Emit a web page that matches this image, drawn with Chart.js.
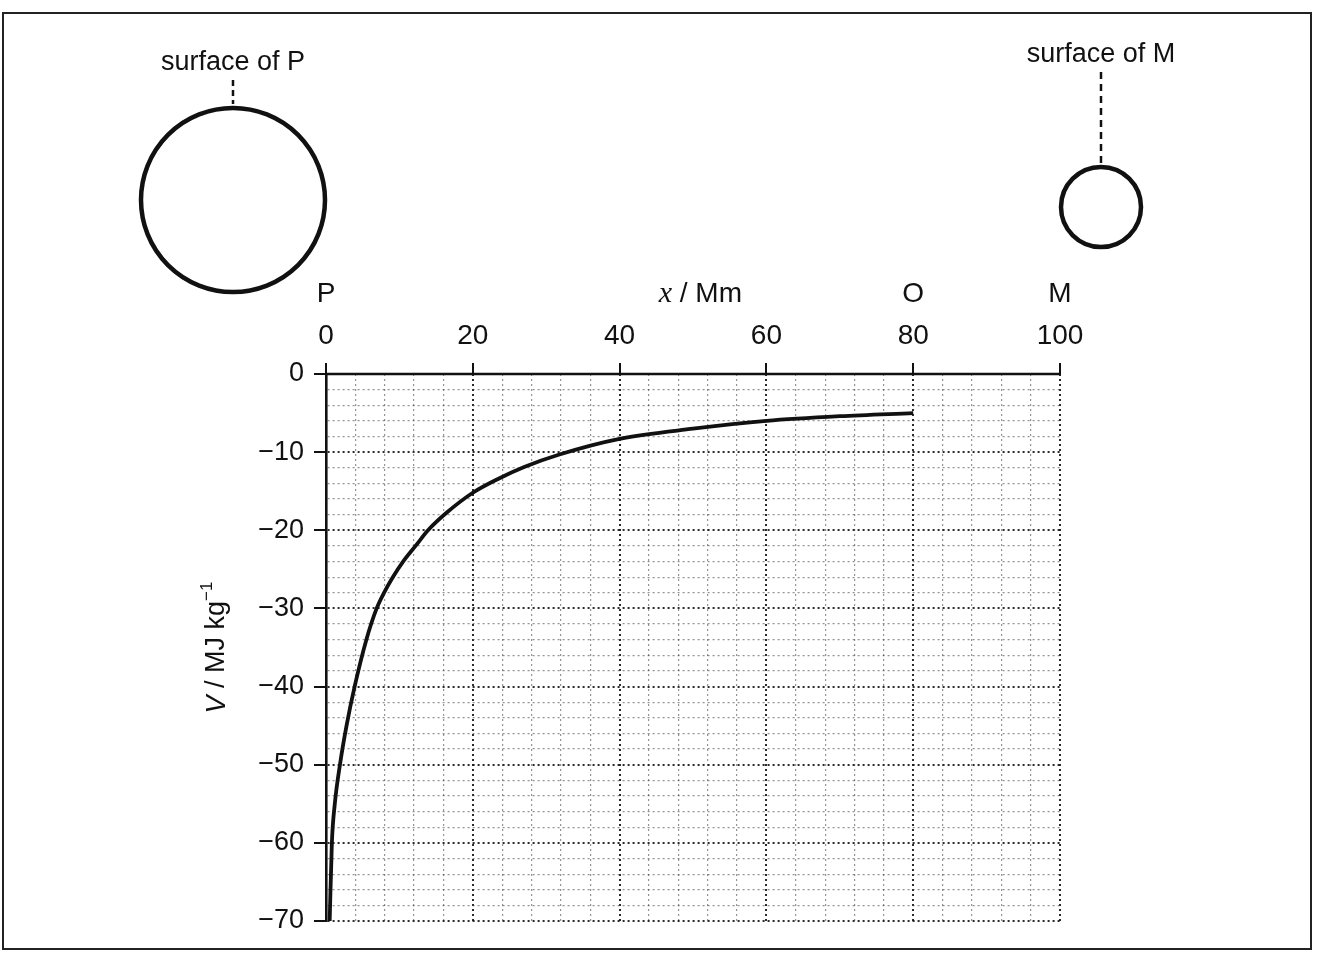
<!DOCTYPE html>
<html>
<head>
<meta charset="utf-8">
<title>Gravitational potential between P and M</title>
<script src="https://cdn.jsdelivr.net/npm/chart.js@4.4.1/dist/chart.umd.min.js"></script>
<style>
  html, body { margin: 0; padding: 0; background: #fff; }
  #wrap { position: relative; width: 1329px; height: 966px; }
  #frame { position: absolute; left: 2px; top: 12px; width: 1306px; height: 934px; border: 2px solid #222; }
</style>
</head>
<body>
<div id="wrap">
  <div id="frame"></div>
  <canvas id="chart"></canvas>
</div>
<script>
// === Data ===
const curveX = [0.5, 0.8, 1.2, 1.9, 2.8, 3.9, 5.5, 6.9, 7.9, 9.1, 10.5, 12.2, 13.9, 16.5, 20, 23.5, 27, 31.8, 40, 50, 60, 70, 80];
const curveV = [-70, -60, -55, -50, -45, -40, -34, -30, -28, -26, -24, -22, -20, -17.7, -15.2, -13.4, -11.9, -10.3, -8.3, -7.0, -6.0, -5.4, -5.0];

// grid lines (graph paper) and labelled ticks
const xGrid = [0, 4, 8, 12, 16, 20, 24, 28, 32, 36, 40, 44, 48, 52, 56, 60, 64, 68, 72, 76, 80, 84, 88, 92, 96, 100];
const xLabels = [0, 20, 40, 60, 80, 100];
const yGrid = [0, -2, -4, -6, -8, -10, -12, -14, -16, -18, -20, -22, -24, -26, -28, -30, -32, -34, -36, -38, -40,
               -42, -44, -46, -48, -50, -52, -54, -56, -58, -60, -62, -64, -66, -68, -70];
const yLabels = [0, -10, -20, -30, -40, -50, -60, -70];

// letters above the x axis
const markerText = ["P", "O", "M"];
const markerAt = [0, 80, 100];

const FONT = '"Liberation Sans", Arial, sans-serif';
const INK = "#111";

const points = curveX.map((x, i) => ({ x, y: curveV[i] }));

// === Drawing of axis line, titles and the two bodies ===
const overlay = {
  id: "overlay",
  afterDraw(chart) {
    const { ctx, scales: { x, y } } = chart;
    const x0 = x.getPixelForValue(0);
    const x100 = x.getPixelForValue(100);
    const y0 = y.getPixelForValue(0);

    ctx.save();
    ctx.strokeStyle = INK;
    ctx.fillStyle = INK;

    // top axis line
    ctx.lineWidth = 2.6;
    ctx.beginPath();
    ctx.moveTo(x0 - 1, y0);
    ctx.lineTo(x100 + 1, y0);
    ctx.stroke();

    // P, O, M letters
    ctx.font = "28px " + FONT;
    ctx.textAlign = "center";
    ctx.textBaseline = "middle";
    markerText.forEach((t, i) => ctx.fillText(t, x.getPixelForValue(markerAt[i]), y0 - 80));

    // x axis title: italic x / Mm
    const tx = x.getPixelForValue(51);
    ctx.font = "italic 30px \"Liberation Serif\", serif";
    const w1 = ctx.measureText("x").width;
    ctx.font = "28px " + FONT;
    const w2 = ctx.measureText(" / Mm").width;
    const sx = tx - (w1 + w2) / 2;
    ctx.textAlign = "left";
    ctx.font = "italic 30px \"Liberation Serif\", serif";
    ctx.fillText("x", sx, y0 - 80);
    ctx.font = "28px " + FONT;
    ctx.fillText(" / Mm", sx + w1, y0 - 80);

    // y axis title, rotated
    ctx.save();
    ctx.translate(217, (y.top + y.bottom) / 2);
    ctx.rotate(-Math.PI / 2);
    ctx.font = "italic 27px " + FONT;
    const v1 = ctx.measureText("V").width;
    ctx.font = "27px " + FONT;
    const v2 = ctx.measureText(" / MJ kg").width;
    ctx.font = "17px " + FONT;
    const v3 = ctx.measureText("\u22121").width;
    const ty = -(v1 + v2 + v3) / 2;
    ctx.textAlign = "left";
    ctx.font = "italic 27px " + FONT;
    ctx.fillText("V", ty, 0);
    ctx.font = "27px " + FONT;
    ctx.fillText(" / MJ kg", ty + v1, 0);
    ctx.font = "17px " + FONT;
    ctx.fillText("\u22121", ty + v1 + v2, -10);
    ctx.restore();

    // planet P: its surface is at x = 0
    const rP = 92, cyP = 200, cxP = x0 - rP - 1;
    ctx.lineWidth = 4.5;
    ctx.beginPath();
    ctx.arc(cxP, cyP, rP, 0, Math.PI * 2);
    ctx.stroke();
    ctx.lineWidth = 2.5;
    ctx.setLineDash([6, 4]);
    ctx.beginPath();
    ctx.moveTo(cxP, 80);
    ctx.lineTo(cxP, cyP - rP - 4);
    ctx.stroke();
    ctx.setLineDash([]);
    ctx.textAlign = "center";
    ctx.textBaseline = "alphabetic";
    ctx.font = "27px " + FONT;
    ctx.fillText("surface of P", cxP, 70);

    // moon M: its surface is at x = 100
    const rM = 40, cyM = 207, cxM = x100 + rM + 1;
    ctx.lineWidth = 4.5;
    ctx.beginPath();
    ctx.arc(cxM, cyM, rM, 0, Math.PI * 2);
    ctx.stroke();
    ctx.lineWidth = 2.5;
    ctx.setLineDash([7, 5]);
    ctx.beginPath();
    ctx.moveTo(cxM, 72);
    ctx.lineTo(cxM, cyM - rM - 4);
    ctx.stroke();
    ctx.setLineDash([]);
    ctx.fillText("surface of M", cxM, 62);

    ctx.restore();
  },
};

const isMajorX = (v) => v % 20 === 0;
const isMajorY = (v) => v % 10 === 0;

new Chart(document.getElementById("chart"), {
  type: "line",
  data: {
    datasets: [
      {
        data: points,
        borderColor: INK,
        borderWidth: 3.8,
        pointRadius: 0,
        fill: false,
        cubicInterpolationMode: "monotone",
      },
    ],
  },
  options: {
    responsive: true,
    maintainAspectRatio: false,
    animation: false,
    layout: { padding: { left: 0, top: 0, right: 269, bottom: 45 } },
    plugins: { legend: { display: false }, tooltip: { enabled: false } },
    scales: {
      x: {
        type: "linear",
        position: "top",
        min: 0,
        max: 100,
        afterBuildTicks: (s) => { s.ticks = xGrid.map((v) => ({ value: v })); },
        afterFit: (s) => { s.height = 374; },
        border: { display: false, dash: [2, 3] },
        grid: {
          color: (c) => {
            const v = c.tick ? c.tick.value : null;
            if (v === 0) return "rgba(0,0,0,0)";
            return isMajorX(v) ? "rgba(20,20,20,0.9)" : "rgba(60,60,60,0.55)";
          },
          lineWidth: (c) => (c.tick && isMajorX(c.tick.value) ? 2 : 1.2),
          tickColor: (c) => (c.tick && xLabels.includes(c.tick.value) ? INK : "rgba(0,0,0,0)"),
          tickLength: 11,
          tickWidth: 2,
        },
        ticks: {
          autoSkip: false,
          maxRotation: 0,
          minRotation: 0,
          padding: 10,
          color: INK,
          font: { family: FONT, size: 28 },
          callback: (v) => (xLabels.includes(v) ? String(v) : ""),
        },
      },
      y: {
        min: -70,
        max: 0,
        afterBuildTicks: (s) => { s.ticks = yGrid.map((v) => ({ value: v })); },
        afterFit: (s) => { s.width = 326; },
        border: { display: true, color: INK, width: 2.6, dash: [2, 3] },
        grid: {
          color: (c) => {
            const v = c.tick ? c.tick.value : null;
            if (v === 0) return "rgba(0,0,0,0)";
            return isMajorY(v) ? "rgba(20,20,20,0.9)" : "rgba(60,60,60,0.55)";
          },
          lineWidth: (c) => (c.tick && isMajorY(c.tick.value) ? 2 : 1.2),
          tickColor: (c) => (c.tick && yLabels.includes(c.tick.value) ? INK : "rgba(0,0,0,0)"),
          tickLength: 12,
          tickWidth: 2,
        },
        ticks: {
          autoSkip: false,
          padding: 10,
          color: INK,
          font: { family: FONT, size: 27 },
          callback: (v) => (yLabels.includes(v) ? (v === 0 ? "0" : "\u2212" + Math.abs(v)) : ""),
        },
      },
    },
  },
  plugins: [overlay],
});
</script>
</body>
</html>
